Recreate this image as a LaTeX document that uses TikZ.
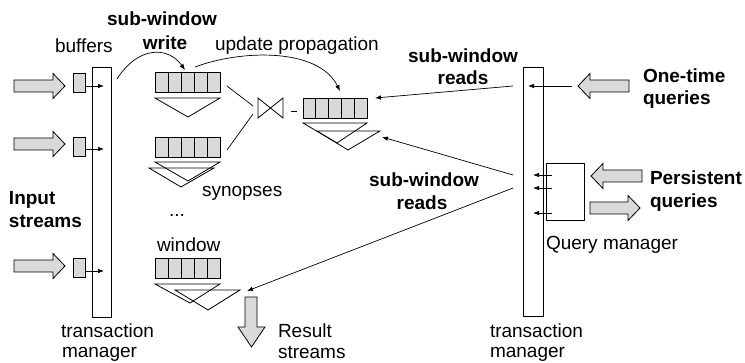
\documentclass[tikz,border=0pt]{standalone}
\usepackage{fontspec}
\setmainfont{Liberation Sans}
\usetikzlibrary{arrows.meta,calc}
\definecolor{cellgray}{gray}{0.85}
\begin{document}
\begin{tikzpicture}[x=1pt,y=-1pt,
  every node/.style={inner sep=0pt, outer sep=0pt},
  lbl/.style={font=\fontsize{19}{22}\selectfont},
  blbl/.style={font=\fontsize{19}{22}\selectfont\bfseries},
  boxw/.style={draw, line width=0.8pt},
  buf/.style={draw, fill=cellgray, line width=0.8pt, minimum width=12pt, minimum height=19pt},
  winbox/.style={draw, fill=cellgray, line width=0.8pt, minimum width=65pt, minimum height=20pt},
  syn/.style={draw, line width=0.8pt, line join=miter},
  conn/.style={line width=0.7pt, -{Latex[length=6pt,width=4.5pt]}},
  plainline/.style={line width=0.7pt},
  bigarrow/.style={draw, fill=cellgray, line width=0.8pt, line join=miter},
  pics/harrow/.style={code={\path[bigarrow] (0,-6)--(#1-12,-6)--(#1-12,-12.5)--(#1,0)--(#1-12,12.5)--(#1-12,6)--(0,6)--cycle;}}
]
\useasboundingbox (0,0) rectangle (745,363);

% input arrows
\pic at (14,86) {harrow=51};
\pic at (14,144) {harrow=51};
\pic at (14,266) {harrow=51};

% buffers
\node[buf] (b1) at (79,83) {};
\node[buf] (b2) at (79,147) {};
\node[buf] (b3) at (79,268) {};

% transaction managers
\node[boxw, minimum width=19pt, minimum height=250pt] (tm1) at (101.5,192) {};
\node[boxw, minimum width=20pt, minimum height=249pt] (tm2) at (533,191.5) {};
% query manager
\node[boxw, minimum width=38pt, minimum height=57pt] (qm) at (565,191.5) {};

% buffer -> TM
\coordinate (t1) at (104,86);
\coordinate (t2) at (104,149);
\coordinate (t3) at (104,271);
\draw[conn] (b1.east |- t1) -- (t1);
\draw[conn] (b2.east |- t2) -- (t2);
\draw[conn] (b3.east |- t3) -- (t3);

% windows
\node[winbox] (w1) at (187.5,82.5) {};
\node[winbox] (w2) at (187.5,147) {};
\node[winbox] (w3) at (187.5,268) {};
\node[winbox, minimum width=64pt] (wm) at (335,108) {};
\foreach \n in {w1,w2,w3,wm}
  \foreach \i in {1,...,4}
    \draw[line width=0.8pt] ($(\n.north west)!\i/5!(\n.north east)$) -- ($(\n.south west)!\i/5!(\n.south east)$);

% synopses
\draw[syn] (155,98)--(220,98)--(188,117)--cycle;
\draw[syn] (155,162)--(220,162)--(188,181)--cycle;
\draw[syn] (149,168)--(214,168)--(181,187)--cycle;
\draw[syn] (303,123)--(367,123)--(337,143)--cycle;
\draw[syn] (317,131)--(380,131)--(348,150)--cycle;
\draw[syn] (155,284)--(220,284)--(190,303)--cycle;
\draw[syn] (175,290)--(240,290)--(208,310)--cycle;

% join
\node[minimum width=25pt, minimum height=20pt] (join) at (270.5,108) {};
\draw[syn] (join.north west)--(join.south east)--(join.north east)--(join.south west)--cycle;
\coordinate (j1) at (227,86);
\coordinate (j2) at (227,150);
\draw[plainline] (j1) -- (253,106);
\draw[plainline] (j2) -- (253,114);
\draw[plainline] (291,111) -- (297,111);

% write and update propagation
\coordinate (ws) at (117,79);
\coordinate (we) at (185,70);
\draw[conn] (ws) .. controls (138,46) and (168,46) .. (we);
\coordinate (us) at (195,67);
\coordinate (ue) at (340,91);
\draw[conn] (us) .. controls (240,50) and (318,47) .. (ue);

% right side
\pic[xscale=-1] at (629,86) {harrow=51};
\pic[xscale=-1] at (642,176) {harrow=51};
\pic at (590,208) {harrow=50};
\draw[conn] (572,86) -- (528,86);
\coordinate (r1) at (375,98);
\coordinate (r2) at (382,137);
\coordinate (r3) at (247,291);
\draw[conn] (513,86) -- (r1);
\draw[conn] (513,175) -- (r2);
\draw[conn] (513,188) -- (r3);
\draw[conn] (552,175) -- (533,175);
\draw[conn] (552,188) -- (533,188);
\draw[conn] (552,213) -- (533,213);

% result arrow
\path[bigarrow] (245,297)--(257,297)--(257,327)--(265,327)--(251.5,347)--(238,327)--(245,327)--cycle;

% labels
\node[lbl, anchor=base west] (lbuf) at (55,53) {buffers};
\node[blbl, anchor=base] (lsw1) at (162,26) {sub-window};
\node[blbl, anchor=base] (lwr) at (165,50) {write};
\node[lbl, anchor=base west] (lup) at (215,51) {update propagation};
\node[blbl, anchor=base] (lsw2) at (463,63) {sub-window};
\node[blbl, anchor=base] (lrd2) at (463,85) {reads};
\node[blbl, anchor=base west] (lot) at (643,83) {One-time};
\node[blbl, anchor=base west] (lq1) at (643,105) {queries};
\node[blbl, anchor=base west] (lin) at (9,205) {Input};
\node[blbl, anchor=base west] (lis) at (9,228) {streams};
\node[lbl, anchor=base west] (lsyn) at (202,197) {synopses};
\node[lbl, anchor=base west] (ldots) at (169,217) {...};
\node[lbl, anchor=base west] (lwin) at (157,252) {window};
\node[blbl, anchor=base west] (lper) at (650,185) {Persistent};
\node[blbl, anchor=base west] (lq2) at (650,208) {queries};
\node[lbl, anchor=base west] (lqm) at (546,250) {Query manager};
\node[lbl, anchor=base west] (ltr2) at (490,338) {transaction};
\node[lbl, anchor=base west] (lma2) at (490,358) {manager};
\node[lbl, anchor=base west] (ltr1) at (61,338) {transaction};
\node[lbl, anchor=base west] (lma1) at (62,358) {manager};
\node[lbl, anchor=base west] (lres) at (278,338) {Result};
\node[lbl, anchor=base west] (lrs) at (278,359) {streams};
\node[blbl, anchor=base] (lsw3) at (424,187) {sub-window};
\node[blbl, anchor=base] (lrd3) at (422,210) {reads};
\end{tikzpicture}
\end{document}
